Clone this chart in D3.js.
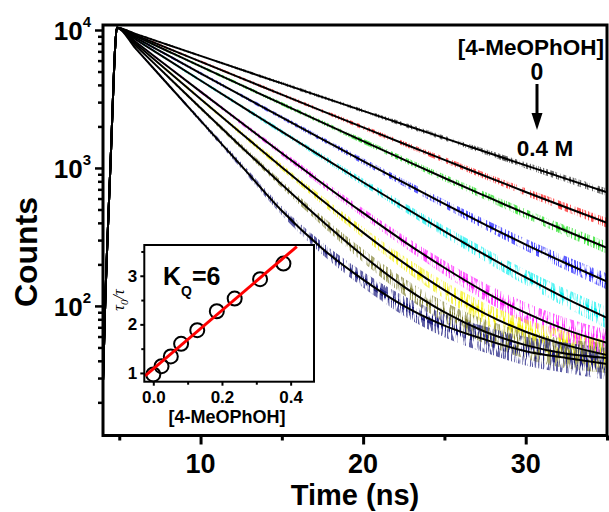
<!DOCTYPE html>
<html><head><meta charset="utf-8">
<script src="https://cdn.jsdelivr.net/npm/d3@7"></script>
<style>
body{margin:0;background:#fff;}
svg{display:block;font-family:"Liberation Sans",Arial,sans-serif;}
</style>
</head><body>
<svg id="chart" width="609" height="512"></svg>
<script>
// ---- main panel data: time (ns) and counts for each quencher concentration ----
const times   = [4.0, 4.15, 4.3, 4.5, 4.65, 4.75, 4.85, 6, 8, 10, 12.5, 15, 17.5, 20, 22.5, 25, 27.5, 30, 32.5, 35];
const decay0 = [28,120,360,1400,4200,7600,10400, 9374,7799,6490,5159,4101,3261,2594,2065,1644,1310,1044,833,666];
const decay1 = [28,120,360,1400,4200,7600,10400, 9187,7364,5904,4480,3402,2585,1967,1498,1144,874,670,517,400];
const decay2 = [28,120,360,1400,4200,7600,10400, 9026,7016,5454,3984,2913,2133,1563,1149,846,627,466,349,264];
const decay3 = [28,120,360,1400,4200,7600,10400, 8795,6534,4856,3356,2322,1610,1119,782,549,389,278,203,150];
const decay4 = [28,120,360,1400,4200,7600,10400, 8554,6067,4305,2806,1832,1199,788,521,347,234,161,113,82];
const decay5 = [28,120,360,1400,4200,7600,10400, 8211,5416,3576,2134,1279,772,472,294,189,126,89,67,54];
const decay6 = [28,120,360,1400,4200,7600,10400, 7990,5026,3166,1783,1012,580,340,205,130,88,65,52,44];
const decay7 = [28,120,360,1400,4200,7600,10400, 7723,4578,2720,1427,758,411,231,138,90,65,52,45,42];
const decay8 = [28,120,360,1400,4200,7600,10400, 7360,4027,2205,1039,489,260,155,100,72,57,47,42,38];
const decays = [decay0, decay1, decay2, decay3, decay4, decay5, decay6, decay7, decay8];
const traceColors = ["#333333","#ff2020","#20e020","#2020ff","#10f0f0","#ff20ff","#f5f010","#808030","#202080"];

const xMajorTicks = [10, 20, 30];
const xMinorTicks = [5, 15, 25, 35];
const yMajorTicks = [100, 1000, 10000];
const yTickExp = ["2", "3", "4"];

// ---- inset data: Stern-Volmer plot ----
const insetConc  = [0, 0.024, 0.051, 0.081, 0.128, 0.185, 0.237, 0.311, 0.379];
const insetRatio = [0.97, 1.14, 1.34, 1.60, 1.88, 2.27, 2.53, 2.93, 3.25];
const fitConc  = [-0.024, 0.418];
const fitRatio = [0.94, 3.60];
const insetXTicks = [0, 0.2, 0.4];
const insetYTicks = [1, 2, 3];

const svg = d3.select("#chart");
const L = 103, R = 607, T = 25, B = 435.5;
const x = d3.scaleLinear().domain([4.0, 35]).range([L, R]);
const y = d3.scaleLog().domain([11.5, 10870]).range([B, T]);

const defs = svg.append("defs");
defs.append("clipPath").attr("id","clip")
  .append("rect").attr("x",L).attr("y",T).attr("width",R-L).attr("height",B-T);
// grain texture (style only) so the data bands look like jagged traces
decays.forEach((d, i) => {
  const f = defs.append("filter").attr("id","grain"+i)
    .attr("filterUnits","userSpaceOnUse").attr("x",L-5).attr("y",T-5).attr("width",R-L+10).attr("height",B-T+10);
  f.append("feTurbulence").attr("type","fractalNoise").attr("baseFrequency","0.6 0.06")
    .attr("numOctaves",2).attr("seed",3+i*11).attr("result","n");
  f.append("feColorMatrix").attr("in","n").attr("type","matrix")
    .attr("values","0 0 0 0 0  0 0 0 0 0  0 0 0 0 0  7 0 0 0 -3.2").attr("result","m");
  f.append("feComposite").attr("in","SourceGraphic").attr("in2","m").attr("operator","in");
});

const plot = svg.append("g").attr("clip-path","url(#clip)");
const noiseW = c => Math.max(0.8, Math.min(20, 98/Math.sqrt(c)));
const innerW = c => Math.max(0.6, Math.min(8, 40/Math.sqrt(c)));

// noisy data bands
decays.forEach((d, i) => {
  const pts = times.map((t, j) => [t, d[j]]);
  const outer = d3.area().x(p => x(p[0]))
    .y0(p => y(p[1]) - noiseW(p[1])).y1(p => y(p[1]) + noiseW(p[1])).curve(d3.curveMonotoneX);
  const inner = d3.area().x(p => x(p[0]))
    .y0(p => y(p[1]) - innerW(p[1])).y1(p => y(p[1]) + innerW(p[1])).curve(d3.curveMonotoneX);
  const g = plot.append("g").attr("filter", `url(#grain${i})`);
  g.append("path").attr("d", outer(pts)).attr("fill", traceColors[i]).attr("fill-opacity", 0.7);
  g.append("path").attr("d", inner(pts)).attr("fill", traceColors[i]).attr("fill-opacity", 1);
});
// fit lines
decays.forEach((d) => {
  const pts = times.map((t, j) => [t, d[j]]);
  const line = d3.line().x(p => x(p[0])).y(p => y(p[1])).curve(d3.curveMonotoneX);
  plot.append("path").attr("d", line(pts))
    .attr("fill","none").attr("stroke","#000").attr("stroke-width",2);
});

// frame
svg.append("rect").attr("x",L).attr("y",T).attr("width",R-L).attr("height",B-T)
  .attr("fill","none").attr("stroke","#000").attr("stroke-width",3);

// x axis
const gxMaj = svg.append("g").attr("transform",`translate(0,${B})`)
  .call(d3.axisBottom(x).tickValues(xMajorTicks).tickSize(9).tickFormat(""));
const gxMin = svg.append("g").attr("transform",`translate(0,${B})`)
  .call(d3.axisBottom(x).tickValues(xMinorTicks).tickSize(5).tickFormat(""));
[gxMaj, gxMin].forEach(g => { g.select(".domain").remove(); g.selectAll("line").attr("stroke-width",3); });
svg.selectAll(".xlab").data(xMajorTicks).enter().append("text")
  .attr("x", d => x(d)).attr("y", 473).attr("text-anchor","middle")
  .attr("font-size", 27).attr("font-weight","bold").text(d => d);

// y axis
const minorY = [];
[10, 100, 1000].forEach(dec => { for (let k = 2; k <= 9; k++) { const v = dec*k; if (v > 11.5 && v < 10870) minorY.push(v); } });
const gyMaj = svg.append("g").attr("transform",`translate(${L},0)`)
  .call(d3.axisLeft(y).tickValues(yMajorTicks).tickSize(8).tickFormat(""));
const gyMin = svg.append("g").attr("transform",`translate(${L},0)`)
  .call(d3.axisLeft(y).tickValues(minorY).tickSize(5).tickFormat(""));
[gyMaj, gyMin].forEach(g => { g.select(".domain").remove(); g.selectAll("line").attr("stroke-width",2.5); });
yMajorTicks.forEach((v, i) => {
  const t = svg.append("text").attr("x", 91).attr("y", y(v) + 10)
    .attr("text-anchor","end").attr("font-weight","bold").attr("font-size",26);
  t.append("tspan").text("10");
  t.append("tspan").attr("font-size",15).attr("dy",-13).text(yTickExp[i]);
});

// axis titles
svg.append("text").attr("x",355).attr("y",505).attr("text-anchor","middle")
  .attr("font-size",29).attr("font-weight","bold").text("Time (ns)");
svg.append("text").attr("transform","translate(37,252) rotate(-90)").attr("text-anchor","middle")
  .attr("font-size",32).attr("font-weight","bold").text("Counts");

// legend annotation
svg.append("text").attr("x",604).attr("y",55).attr("text-anchor","end")
  .attr("font-size",22.5).attr("font-weight","bold").text("[4-MeOPhOH]");
svg.append("text").attr("x",537).attr("y",80).attr("text-anchor","middle")
  .attr("font-size",23).attr("font-weight","bold").text("0");
svg.append("line").attr("x1",537).attr("x2",537).attr("y1",84).attr("y2",116)
  .attr("stroke","#000").attr("stroke-width",3);
svg.append("path").attr("d","M531.5,113 L542.5,113 L537,130 Z").attr("fill","#000");
svg.append("text").attr("x",545).attr("y",156).attr("text-anchor","middle")
  .attr("font-size",22.5).attr("font-weight","bold").text("0.4 M");

// ---- inset ----
const iL = 144.3, iR = 314, iT = 245, iB = 381.7;
const ix = d3.scaleLinear().domain([-0.0262, 0.468]).range([iL, iR]);
const iy = d3.scaleLinear().domain([0.82, 3.633]).range([iB, iT]);
const inset = svg.append("g");
inset.append("rect").attr("x",iL).attr("y",iT).attr("width",iR-iL).attr("height",iB-iT)
  .attr("fill","#fff").attr("stroke","none");

const ixa = inset.append("g").attr("transform",`translate(0,${iB})`)
  .call(d3.axisBottom(ix).tickValues(insetXTicks).tickSize(4).tickPadding(5).tickFormat(d3.format(".1f")));
const ixm = inset.append("g").attr("transform",`translate(0,${iB})`)
  .call(d3.axisBottom(ix).tickValues([0.1, 0.3]).tickSize(3).tickFormat(""));
const iya = inset.append("g").attr("transform",`translate(${iL},0)`)
  .call(d3.axisLeft(iy).tickValues(insetYTicks).tickSize(4).tickPadding(3).tickFormat(d3.format("d")));
const iym = inset.append("g").attr("transform",`translate(${iL},0)`)
  .call(d3.axisLeft(iy).tickValues([1.5, 2.5, 3.5]).tickSize(3).tickFormat(""));
[ixa, ixm, iya, iym].forEach(g => {
  g.select(".domain").remove();
  g.selectAll("line").attr("stroke-width",2);
  g.selectAll("text").attr("font-size",17).attr("font-weight","bold").attr("fill","#000")
    .attr("font-family","Liberation Sans, Arial, sans-serif");
});

inset.selectAll("circle").data(insetConc).enter().append("circle")
  .attr("cx", (d) => ix(d)).attr("cy", (d, i) => iy(insetRatio[i])).attr("r", 7)
  .attr("fill","none").attr("stroke","#000").attr("stroke-width",2);
inset.append("path")
  .attr("d", d3.line().x(d => ix(d[0])).y(d => iy(d[1]))(fitConc.map((c, i) => [c, fitRatio[i]])))
  .attr("stroke","#ff0000").attr("stroke-width",3).attr("fill","none");
inset.append("rect").attr("x",iL).attr("y",iT).attr("width",iR-iL).attr("height",iB-iT)
  .attr("fill","none").attr("stroke","#000").attr("stroke-width",2);

const kq = inset.append("text").attr("x",163).attr("y",285).attr("font-size",25).attr("font-weight","bold");
kq.append("tspan").text("K");
kq.append("tspan").attr("font-size",14).attr("dy",11).text("Q");
kq.append("tspan").attr("font-size",25).attr("dy",-11).text("=6");

inset.append("text").attr("x",227).attr("y",423).attr("text-anchor","middle")
  .attr("font-size",18).attr("font-weight","bold").text("[4-MeOPhOH]");

const tl = inset.append("text").attr("transform","translate(124,300) rotate(-90)")
  .attr("text-anchor","middle").attr("font-family","Liberation Serif, DejaVu Serif, serif")
  .attr("font-style","italic").attr("font-size",16);
tl.append("tspan").text("τ");
tl.append("tspan").attr("font-size",11).attr("dy",4).text("0");
tl.append("tspan").attr("dy",-4).text("/τ");
</script>
</body></html>
